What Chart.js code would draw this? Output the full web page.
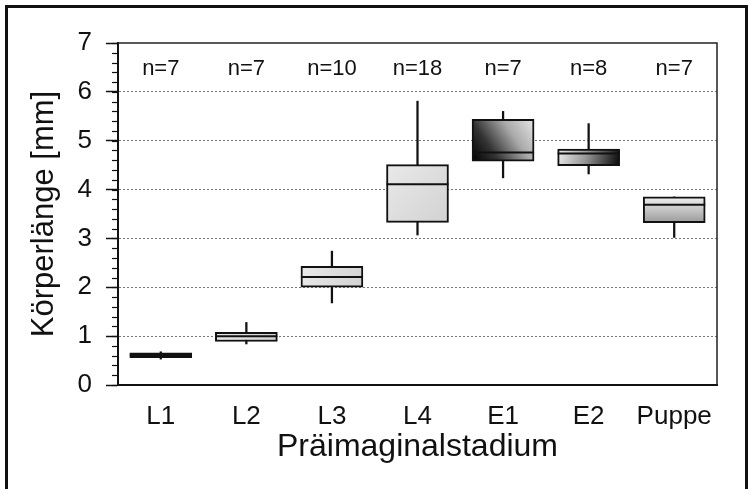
<!DOCTYPE html>
<html>
<head>
<meta charset="utf-8">
<script src="https://cdn.jsdelivr.net/npm/chart.js@4.4.0/dist/chart.umd.min.js"></script>
<style>
  html, body { margin: 0; padding: 0; background: #fff; }
  #wrap { position: relative; width: 750px; height: 489px; overflow: hidden; }
  #frame {
    position: absolute; left: 5px; top: 5px; width: 743px; height: 500px;
    box-sizing: border-box; border: 3px solid #111; border-bottom: none;
    pointer-events: none;
  }
</style>
</head>
<body>
<div id="wrap">
  <canvas id="chart" width="750" height="489"></canvas>
  <div id="frame"></div>
</div>
<script>
// data
var stages = ["L1", "L2", "L3", "L4", "E1", "E2", "Puppe"];
var sampleSizes = [7, 7, 10, 18, 7, 8, 7];
var minVals = [0.53, 0.84, 1.68, 3.07, 4.24, 4.32, 3.02];
var q1Vals = [0.56, 0.89, 2.0, 3.33, 4.58, 4.49, 3.32];
var medianVals = [0.61, 1.0, 2.21, 4.11, 4.76, 4.74, 3.69];
var q3Vals = [0.66, 1.08, 2.43, 4.51, 5.44, 4.83, 3.85];
var maxVals = [0.68, 1.28, 2.74, 5.81, 5.6, 5.35, 3.85];

// shading of each box
var boxShades = ["solid", "light", "light", "light", "diag", "horiz", "vert"];

var FONT = "'Liberation Sans', Arial, sans-serif";
var HALF = 31;

function boxFill(ctx) {
    var chart = ctx.chart;
    var i = ctx.dataIndex;
    if (!chart.chartArea || !chart.scales.x || !chart.scales.y) return "#ddd";
    var xc = chart.scales.x.getPixelForValue(i);
    var yt = chart.scales.y.getPixelForValue(q3Vals[i]);
    var yb = chart.scales.y.getPixelForValue(q1Vals[i]);
    var x0 = xc - HALF, x1 = xc + HALF;
    var c = chart.ctx;
    var g;
    switch (boxShades[i]) {
        case "solid":
            return "#111";
        case "light":
            g = c.createLinearGradient(x0, yt, x1, yb);
            g.addColorStop(0, "#e9e9e9");
            g.addColorStop(1, "#d2d2d2");
            return g;
        case "diag":
            g = c.createLinearGradient(x0, yb, x1, yt);
            g.addColorStop(0, "#000");
            g.addColorStop(0.3, "#333");
            g.addColorStop(0.65, "#aaa");
            g.addColorStop(1, "#e6e6e6");
            return g;
        case "horiz":
            g = c.createLinearGradient(x0, yt, x1, yb);
            g.addColorStop(0, "#eeeeee");
            g.addColorStop(0.45, "#999");
            g.addColorStop(1, "#050505");
            return g;
        case "vert":
            g = c.createLinearGradient(xc, yt, xc, yb);
            g.addColorStop(0, "#f0f0f0");
            g.addColorStop(1, "#999");
            return g;
    }
    return "#ddd";
}

// minor ticks on the y axis, plot frame and n= labels
var decorations = {
    id: "decorations",
    afterDraw: function (chart) {
        var c = chart.ctx, a = chart.chartArea, y = chart.scales.y, x = chart.scales.x;
        c.save();
        c.strokeStyle = "#111";
        c.lineWidth = 1.2;
        for (var k = 0; k <= 35; k++) {
            var p = Math.round(y.getPixelForValue(k * 0.2)) + 0.5;
            c.beginPath();
            c.moveTo(a.left - 6, p);
            c.lineTo(a.left, p);
            c.stroke();
        }
        c.lineWidth = 1.5;
        c.strokeStyle = "#222";
        c.beginPath();
        c.moveTo(a.left, a.top);
        c.lineTo(a.right, a.top);
        c.lineTo(a.right, a.bottom);
        c.stroke();

        c.fillStyle = "#111";
        c.font = "22px " + FONT;
        c.textAlign = "center";
        c.textBaseline = "middle";
        for (var i = 0; i < stages.length; i++) {
            c.fillText("n=" + sampleSizes[i], x.getPixelForValue(i), a.top + 26);
        }
        c.restore();
    }
};

var whiskers = stages.map(function (s, i) { return [minVals[i], maxVals[i]]; });
var boxes = stages.map(function (s, i) { return [q1Vals[i], q3Vals[i]]; });

var ctx = document.getElementById("chart").getContext("2d");
var myChart = new Chart(ctx, {
    type: "bar",
    data: {
        labels: stages,
        datasets: [
            {
                type: "line",
                label: "Median",
                data: medianVals,
                showLine: false,
                pointStyle: "line",
                pointRadius: HALF,
                pointHoverRadius: HALF,
                pointBorderWidth: 2,
                pointBorderColor: "#111",
                order: 0,
            },
            {
                label: "Box",
                data: boxes,
                backgroundColor: boxFill,
                borderColor: "#111",
                borderWidth: 2,
                borderSkipped: false,
                barThickness: HALF * 2,
                grouped: false,
                order: 1,
            },
            {
                label: "Whisker",
                data: whiskers,
                backgroundColor: "#111",
                borderWidth: 0,
                barThickness: 1.6,
                grouped: false,
                order: 2,
            },
        ],
    },
    options: {
        responsive: false,
        animation: false,
        layout: { padding: { left: 20, right: 13, top: 43, bottom: 20 } },
        plugins: {
            legend: { display: false },
            tooltip: { enabled: false },
        },
        scales: {
            x: {
                offset: true,
                grid: { display: false, drawTicks: false },
                border: { display: true, color: "#111", width: 2 },
                ticks: { color: "#111", font: { size: 26, family: FONT }, padding: 16 },
                title: {
                    display: true,
                    text: "Präimaginalstadium",
                    color: "#111",
                    font: { size: 32, family: FONT },
                    padding: { top: 4, bottom: 3 },
                },
                afterFit: function (s) { s.height = 84; },
            },
            y: {
                min: 0,
                max: 7,
                ticks: { stepSize: 1, color: "#111", font: { size: 26, family: FONT }, padding: 14 },
                grid: {
                    color: function (c) {
                        var v = c.tick ? c.tick.value : 0;
                        return v > 0 && v < 7 ? "#777" : "rgba(0,0,0,0)";
                    },
                    lineWidth: 1,
                    tickLength: 12,
                    tickColor: "#111",
                    tickWidth: 1.5,
                },
                border: { display: true, color: "#111", width: 2, dash: [2, 2] },
                title: {
                    display: true,
                    text: "Körperlänge [mm]",
                    color: "#111",
                    font: { size: 31, family: FONT },
                    padding: { top: 6, bottom: 15 },
                },
                afterFit: function (s) { s.width = 98; },
            },
        },
    },
    plugins: [decorations],
});
</script>
</body>
</html>
